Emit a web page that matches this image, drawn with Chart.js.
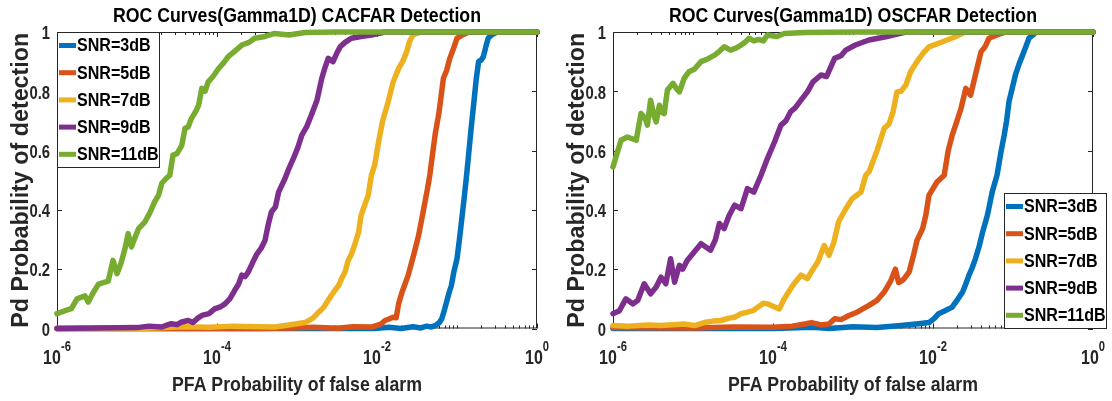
<!DOCTYPE html>
<html>
<head>
<meta charset="utf-8">
<script src="https://cdn.jsdelivr.net/npm/chart.js@4/dist/chart.umd.min.js"></script>
<style>
  html, body { margin: 0; padding: 0; background: #fff; }
  #wrap { position: relative; width: 1112px; height: 401px; }
  canvas { position: absolute; top: 0; }
  #ca { left: 0; }
  #os { left: 556px; }
</style>
</head>
<body>
<div id="wrap">
  <canvas id="ca" width="556" height="401"></canvas>
  <canvas id="os" width="556" height="401"></canvas>
</div>
<script>
const snrLabels = ['SNR=3dB', 'SNR=5dB', 'SNR=7dB', 'SNR=9dB', 'SNR=11dB'];
const lineColors = ['#0072BD', '#D95319', '#EDB120', '#7E2F8E', '#77AC30'];
const xTickExps = [-6, -4, -2, 0];
const yTicks = [0, 0.2, 0.4, 0.6, 0.8, 1];
const yTickLabels = ['0', '0.2', '0.4', '0.6', '0.8', '1'];

// CA-CFAR curves: log10(PFA) and Pd
const caSnr3Exp = [-6, -5.5, -5, -4.5, -4, -3.5, -3, -2.5, -2.03, -1.85, -1.7, -1.55, -1.45, -1.38, -1.32, -1.26, -1.22, -1.19, -1.16, -1.13, -1.1, -1.07, -1.04, -1.0, -0.97, -0.94, -0.91, -0.88, -0.85, -0.82, -0.79, -0.76, -0.73, -0.7, -0.67, -0.64, -0.61, -0.57, -0.5, -0.3, 0];
const caSnr3Pd = [0, 0, 0, 0, 0, 0, 0, 0, 0, .004, 0, .006, .002, .008, .005, .012, .02, .033, .06, .089, .12, .145, .19, .235, .3, .37, .44, .517, .6, .684, .76, .84, .9, .905, .917, .95, .979, .99, 1, 1, 1];
const caSnr5Exp = [-6, -5, -4, -3.5, -3.07, -2.8, -2.5, -2.3, -2.07, -1.95, -1.9, -1.85, -1.8, -1.76, -1.73, -1.69, -1.65, -1.61, -1.57, -1.53, -1.48, -1.44, -1.4, -1.37, -1.34, -1.3, -1.27, -1.23, -1.2, -1.17, -1.13, -1.09, -1.05, -1.0, -0.96, -0.93, -0.85, -0.5, 0];
const caSnr5Pd = [0, 0, 0, 0, .002, .004, .001, .006, .005, .015, .027, .032, .038, .036, .083, .12, .15, .18, .22, .26, .314, .37, .427, .47, .517, .6, .66, .72, .78, .844, .87, .911, .94, .979, .985, .99, 1, 1, 1];
const caSnr7Exp = [-6, -5.5, -5, -4.65, -4.4, -4.1, -3.8, -3.5, -3.28, -3.1, -2.9, -2.8, -2.73, -2.67, -2.61, -2.55, -2.48, -2.44, -2.4, -2.36, -2.32, -2.27, -2.23, -2.2, -2.17, -2.11, -2.07, -2.03, -1.98, -1.93, -1.86, -1.8, -1.73, -1.68, -1.63, -1.59, -1.55, -1.45, -1, 0];
const caSnr7Pd = [0, 0, 0, .003, .006, .004, .008, .006, .005, .012, .02, .035, .055, .07, .095, .12, .145, .17, .19, .23, .25, .29, .325, .38, .404, .449, .517, .55, .63, .7, .765, .83, .877, .9, .933, .97, .99, 1, 1, 1];
const caSnr9Exp = [-6, -5.5, -5, -4.85, -4.69, -4.62, -4.57, -4.5, -4.44, -4.36, -4.3, -4.24, -4.19, -4.1, -4.03, -3.95, -3.9, -3.84, -3.78, -3.73, -3.69, -3.65, -3.61, -3.55, -3.5, -3.45, -3.4, -3.36, -3.32, -3.27, -3.23, -3.15, -3.11, -3.05, -2.99, -2.94, -2.88, -2.82, -2.75, -2.69, -2.65, -2.61, -2.55, -2.5, -2.46, -2.4, -2.32, -2.2, -2.07, -1.9, -1, 0];
const caSnr9Pd = [0, .002, .003, .008, .005, .012, .016, .013, .022, .027, .02, .035, .044, .05, .066, .074, .083, .1, .128, .15, .18, .175, .19, .225, .252, .27, .297, .35, .393, .41, .46, .506, .534, .57, .61, .652, .68, .72, .77, .844, .88, .911, .9, .93, .95, .965, .979, .985, .99, 1, 1, 1];
const caSnr11Exp = [-6, -5.9, -5.82, -5.75, -5.65, -5.61, -5.55, -5.48, -5.42, -5.36, -5.3, -5.25, -5.2, -5.15, -5.11, -5.07, -5.02, -4.98, -4.9, -4.84, -4.78, -4.73, -4.69, -4.64, -4.59, -4.55, -4.5, -4.44, -4.4, -4.36, -4.32, -4.27, -4.23, -4.19, -4.15, -4.11, -4.05, -3.98, -3.92, -3.86, -3.78, -3.69, -3.6, -3.53, -3.4, -3.28, -3.1, -2.9, -2.5, -2, -1, 0];
const caSnr11Pd = [.05, .06, .067, .1, .11, .089, .12, .15, .155, .16, .23, .185, .22, .27, .32, .275, .31, .337, .36, .39, .427, .45, .49, .505, .517, .585, .59, .618, .675, .68, .708, .73, .753, .81, .8, .832, .85, .877, .895, .917, .935, .956, .965, .979, .985, .995, .99, .998, 1, 1, 1, 1];

// OS-CFAR curves
const osSnr3Exp = [-6, -5, -4, -3.5, -3.3, -3, -2.7, -2.4, -2.18, -2.05, -1.98, -1.93, -1.85, -1.76, -1.7, -1.63, -1.59, -1.55, -1.51, -1.47, -1.42, -1.38, -1.32, -1.26, -1.2, -1.15, -1.11, -1.08, -1.05, -1.01, -0.97, -0.92, -0.88, -0.84, -0.8, -0.75, -0.71, -0.5, 0];
const osSnr3Pd = [0, 0, 0, .004, 0, .006, .003, .01, .016, .02, .035, .05, .06, .072, .095, .123, .15, .18, .205, .235, .28, .325, .382, .46, .517, .596, .652, .7, .765, .81, .855, .895, .922, .95, .979, .99, 1, 1, 1];
const osSnr5Exp = [-6, -5, -4.5, -4, -3.76, -3.6, -3.52, -3.4, -3.3, -3.23, -3.15, -3.05, -2.95, -2.8, -2.7, -2.61, -2.53, -2.47, -2.43, -2.37, -2.3, -2.25, -2.2, -2.13, -2.09, -2.05, -1.95, -1.86, -1.81, -1.76, -1.7, -1.65, -1.59, -1.53, -1.47, -1.4, -1.35, -1.3, -1.2, -1.09, -0.5, 0];
const osSnr5Pd = [.003, .002, .005, .004, .008, .015, .02, .012, .015, .033, .03, .044, .055, .078, .095, .123, .16, .2, .155, .165, .19, .24, .297, .337, .382, .45, .494, .517, .6, .652, .7, .742, .81, .787, .855, .933, .95, .979, .99, 1, 1, 1];
const osSnr7Exp = [-6, -5.8, -5.57, -5.4, -5.11, -4.98, -4.86, -4.75, -4.65, -4.55, -4.48, -4.4, -4.32, -4.25, -4.19, -4.12, -4.07, -4.0, -3.92, -3.87, -3.82, -3.74, -3.65, -3.57, -3.5, -3.44, -3.36, -3.3, -3.24, -3.18, -3.09, -3.01, -2.95, -2.9, -2.84, -2.8, -2.7, -2.61, -2.55, -2.5, -2.45, -2.4, -2.34, -2.28, -2.2, -2.12, -2.05, -1.88, -1.72, -1.6, -1, 0];
const osSnr7Pd = [.01, .008, .012, .01, .015, .01, .02, .025, .027, .035, .038, .05, .055, .06, .072, .085, .083, .075, .066, .095, .117, .15, .18, .168, .2, .224, .28, .247, .29, .36, .404, .438, .45, .46, .517, .528, .6, .675, .69, .73, .798, .8, .821, .866, .9, .93, .95, .967, .984, 1, 1, 1];
const osSnr9Exp = [-6, -5.92, -5.84, -5.75, -5.69, -5.61, -5.53, -5.46, -5.4, -5.34, -5.28, -5.23, -5.17, -5.13, -5.07, -4.98, -4.9, -4.78, -4.72, -4.67, -4.61, -4.55, -4.48, -4.4, -4.32, -4.24, -4.15, -4.07, -3.98, -3.9, -3.84, -3.78, -3.72, -3.65, -3.57, -3.5, -3.4, -3.33, -3.23, -3.15, -3.09, -2.97, -2.8, -2.59, -2.34, -2, -1, 0];
const osSnr9Pd = [.05, .06, .1, .083, .095, .151, .117, .14, .173, .151, .235, .156, .213, .2, .23, .26, .286, .264, .3, .354, .337, .38, .416, .404, .472, .46, .517, .573, .63, .686, .7, .731, .745, .77, .798, .832, .855, .85, .911, .92, .939, .956, .973, .984, 1, 1, 1, 1];
const osSnr11Exp = [-6, -5.95, -5.9, -5.82, -5.76, -5.71, -5.65, -5.6, -5.57, -5.53, -5.49, -5.46, -5.42, -5.39, -5.36, -5.32, -5.25, -5.21, -5.17, -5.11, -5.05, -4.98, -4.9, -4.81, -4.73, -4.67, -4.61, -4.53, -4.47, -4.4, -4.35, -4.3, -4.24, -4.18, -4.12, -4.07, -3.95, -3.86, -3.6, -3, -2, 0];
const osSnr11Pd = [.545, .59, .635, .646, .64, .635, .725, .71, .686, .77, .72, .697, .753, .73, .725, .804, .827, .81, .798, .844, .866, .875, .9, .91, .922, .935, .95, .939, .945, .956, .965, .979, .97, .975, .97, .99, .985, .995, .998, 1, 1, 1];

const FONT = "'Liberation Sans', Arial, Helvetica, sans-serif";
const AXIS_COLOR = '#262626';

function toPoints(exps, pds) {
  return exps.map((e, i) => ({ x: Math.pow(10, e), y: pds[i] }));
}

// draw text squeezed horizontally by sx
function drawText(ctx, txt, x, y, sx, align) {
  ctx.save();
  ctx.translate(x, y);
  ctx.scale(sx, 1);
  ctx.textAlign = align;
  ctx.fillText(txt, 0, 0);
  ctx.restore();
}

const matlabAxes = {
  id: 'matlabAxes',
  beforeDatasetsDraw(chart) {
    const ctx = chart.ctx, a = chart.chartArea;
    const xs = chart.scales.x, ys = chart.scales.y;
    ctx.save();
    ctx.strokeStyle = AXIS_COLOR;
    ctx.lineWidth = 1;
    ctx.strokeRect(a.left + 0.5, a.top + 0.5, a.right - a.left - 1, a.bottom - a.top - 1);
    ctx.beginPath();
    // y ticks, both sides, pointing in
    yTicks.forEach(v => {
      const py = Math.round(ys.getPixelForValue(v)) + 0.5;
      ctx.moveTo(a.left, py); ctx.lineTo(a.left + 5, py);
      ctx.moveTo(a.right, py); ctx.lineTo(a.right - 5, py);
    });
    // log x ticks: majors at labelled decades, minors elsewhere
    for (let d = -6; d <= 0; d++) {
      for (let k = 1; k <= 9; k++) {
        if (d === 0 && k > 1) break;
        const v = k * Math.pow(10, d);
        const px = Math.round(xs.getPixelForValue(v)) + 0.5;
        const len = (k === 1 && xTickExps.includes(d)) ? 5 : 3;
        ctx.moveTo(px, a.bottom); ctx.lineTo(px, a.bottom - len);
        ctx.moveTo(px, a.top); ctx.lineTo(px, a.top + len);
      }
    }
    ctx.stroke();
    ctx.restore();
  },
  afterDatasetsDraw(chart, args, opts) {
    const ctx = chart.ctx;
    const lx = opts.legendX, ly = opts.legendY, lw = 103, lh = 136;
    ctx.save();
    ctx.fillStyle = '#fff';
    ctx.fillRect(lx, ly, lw, lh);
    ctx.strokeStyle = AXIS_COLOR;
    ctx.lineWidth = 1;
    ctx.strokeRect(lx + 0.5, ly + 0.5, lw - 1, lh - 1);
    ctx.font = 'bold 18px ' + FONT;
    const sx = 81.7 / ctx.measureText(snrLabels[4]).width;
    ctx.textBaseline = 'middle';
    chart.data.datasets.forEach((ds, i) => {
      const ry = ly + 13.5 + 27.2 * i;
      ctx.strokeStyle = ds.borderColor;
      ctx.lineWidth = 5;
      ctx.beginPath();
      ctx.moveTo(lx + 2, ry); ctx.lineTo(lx + 19, ry);
      ctx.stroke();
      ctx.fillStyle = '#000';
      drawText(ctx, ds.label, lx + 20, ry + 1, sx, 'left');
    });
    ctx.restore();
  },
  afterDraw(chart, args, opts) {
    const ctx = chart.ctx, a = chart.chartArea;
    const xs = chart.scales.x, ys = chart.scales.y;
    const cx = (a.left + a.right) / 2;
    ctx.save();
    ctx.fillStyle = AXIS_COLOR;
    // y tick labels
    ctx.font = 'bold 19px ' + FONT;
    ctx.textBaseline = 'middle';
    yTicks.forEach((v, i) => {
      drawText(ctx, yTickLabels[i], a.left - 7, ys.getPixelForValue(v) + 2, 0.78, 'right');
    });
    // x tick labels as 10^n
    ctx.textBaseline = 'alphabetic';
    const sxTick = 0.8;
    xTickExps.forEach(e => {
      const px = xs.getPixelForValue(Math.pow(10, e));
      ctx.font = 'bold 20px ' + FONT;
      const wBase = ctx.measureText('10').width * sxTick;
      ctx.font = 'bold 14px ' + FONT;
      const sup = String(e);
      const wSup = ctx.measureText(sup).width * sxTick;
      const x0 = px - (wBase + wSup) / 2;
      ctx.font = 'bold 20px ' + FONT;
      drawText(ctx, '10', x0, 364, sxTick, 'left');
      ctx.font = 'bold 14px ' + FONT;
      drawText(ctx, sup, x0 + wBase, 351, sxTick, 'left');
    });
    // x axis title
    ctx.font = 'bold 21px ' + FONT;
    let w = ctx.measureText(opts.xTitle).width;
    drawText(ctx, opts.xTitle, cx, 391, 250 / w, 'center');
    // y axis title, rotated
    ctx.font = 'bold 23px ' + FONT;
    w = ctx.measureText(opts.yTitle).width;
    ctx.save();
    ctx.translate(28, (a.top + a.bottom) / 2);
    ctx.rotate(-Math.PI / 2);
    drawText(ctx, opts.yTitle, 0, 0, 295 / w, 'center');
    ctx.restore();
    // chart title
    ctx.fillStyle = '#000';
    ctx.font = 'bold 20px ' + FONT;
    w = ctx.measureText(opts.title).width;
    drawText(ctx, opts.title, cx, 22, 368 / w, 'center');
    ctx.restore();
  }
};

function makeRoc(canvasId, title, exps, pds, legendX, legendY) {
  const datasets = snrLabels.map((lab, i) => ({
    label: lab,
    data: toPoints(exps[i], pds[i]),
    borderColor: lineColors[i],
    borderWidth: 5.5,
    borderJoinStyle: 'round',
    borderCapStyle: 'round',
    pointRadius: 0,
    tension: 0,
    fill: false,
    clip: false,
    order: 5 - i
  }));
  return new Chart(document.getElementById(canvasId), {
    type: 'line',
    data: { datasets },
    options: {
      responsive: false,
      animation: false,
      devicePixelRatio: 1,
      events: [],
      layout: { padding: { left: 57, right: 19, top: 32, bottom: 72.5 } },
      scales: {
        x: { type: 'logarithmic', min: 1e-6, max: 1, display: false },
        y: { type: 'linear', min: 0, max: 1, display: false }
      },
      plugins: {
        legend: { display: false },
        tooltip: { enabled: false },
        matlabAxes: {
          title: title,
          xTitle: 'PFA Probability of false alarm',
          yTitle: 'Pd Probability of detection',
          legendX: legendX,
          legendY: legendY
        }
      }
    },
    plugins: [matlabAxes]
  });
}

makeRoc('ca', 'ROC Curves(Gamma1D) CACFAR Detection',
  [caSnr3Exp, caSnr5Exp, caSnr7Exp, caSnr9Exp, caSnr11Exp],
  [caSnr3Pd, caSnr5Pd, caSnr7Pd, caSnr9Pd, caSnr11Pd], 57, 32);

makeRoc('os', 'ROC Curves(Gamma1D) OSCFAR Detection',
  [osSnr3Exp, osSnr5Exp, osSnr7Exp, osSnr9Exp, osSnr11Exp],
  [osSnr3Pd, osSnr5Pd, osSnr7Pd, osSnr9Pd, osSnr11Pd], 448, 193);
</script>
</body>
</html>
